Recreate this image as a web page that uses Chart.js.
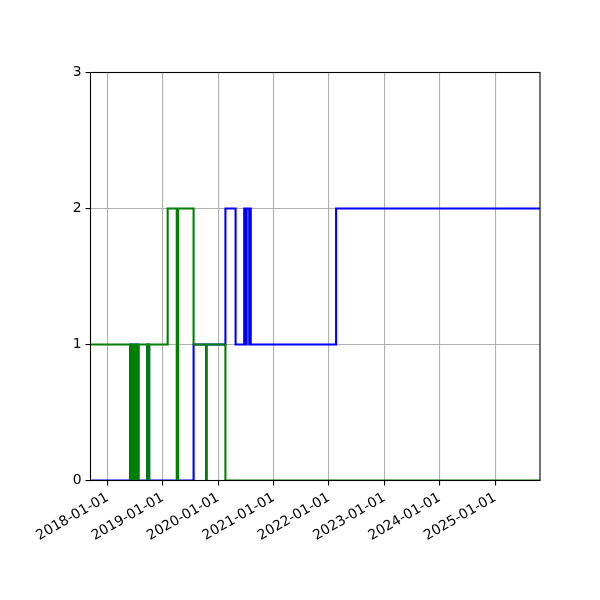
<!DOCTYPE html>
<html>
<head>
<meta charset="utf-8">
<script src="https://cdn.jsdelivr.net/npm/chart.js@4.4.1/dist/chart.umd.min.js"></script>
<style>
  html, body { margin: 0; padding: 0; background: #fff; }
  canvas { display: block; }
</style>
</head>
<body>
<canvas id="steps" width="600" height="600"></canvas>
<script>
// step series, each value holds from its date until the next one
const greenDates = ['2017-09-11', '2018-05-31', '2018-06-06', '2018-06-12', '2018-06-18', '2018-06-24',
  '2018-06-30', '2018-07-06', '2018-07-12', '2018-07-18', '2018-07-24', '2018-09-20', '2018-10-03',
  '2019-02-02', '2019-04-03', '2019-04-12', '2019-07-23', '2019-10-13', '2019-10-18', '2020-02-18',
  '2025-10-24'];
const greenValues = [1, 0, 1, 0, 1, 0, 1, 0, 1, 0, 1, 0, 1, 2, 0, 2, 1, 0, 1, 0, 0];

const blueDates = ['2017-09-11', '2018-05-31', '2018-06-06', '2018-06-12', '2018-06-18', '2018-06-24',
  '2018-06-30', '2018-07-06', '2018-07-12', '2018-07-18', '2018-07-24', '2018-09-20', '2018-10-03',
  '2019-07-23', '2020-02-18', '2020-04-25', '2020-06-21', '2020-06-30', '2020-07-07', '2020-07-24',
  '2020-07-29', '2020-08-03', '2022-02-17', '2025-10-24'];
const blueValues = [0, 1, 0, 1, 0, 1, 0, 1, 0, 1, 0, 1, 0, 1, 2, 1, 2, 1, 2, 1, 2, 1, 2, 2];

const yearTicks = ['2018-01-01', '2019-01-01', '2020-01-01', '2021-01-01',
  '2022-01-01', '2023-01-01', '2024-01-01', '2025-01-01'];
const yTicks = [0, 1, 2, 3];

const toPoints = (dates, values) => dates.map((d, i) => ({ x: Date.parse(d), y: values[i] }));
const allDates = greenDates.concat(blueDates).map(d => Date.parse(d));

Chart.defaults.font.family = 'DejaVu Sans';
Chart.defaults.font.size = 13.9;
Chart.defaults.color = '#000';

// matplotlib style box around the plot area
const frame = {
  id: 'frame',
  afterDatasetsDraw(chart) {
    const { ctx, chartArea: a } = chart;
    ctx.save();
    ctx.strokeStyle = '#000';
    ctx.lineWidth = 1.1;
    ctx.strokeRect(a.left, a.top, a.right - a.left, a.bottom - a.top);
    ctx.restore();
  }
};

new Chart(document.getElementById('steps'), {
  type: 'line',
  data: {
    datasets: [{
      label: 'green',
      data: toPoints(greenDates, greenValues),
      borderColor: '#008000',
      borderWidth: 2.1,
      stepped: true,
      pointRadius: 0,
      fill: false,
    }, {
      label: 'blue',
      data: toPoints(blueDates, blueValues),
      borderColor: '#0000ff',
      borderWidth: 2.1,
      stepped: true,
      pointRadius: 0,
      fill: false,
    }]
  },
  options: {
    responsive: false,
    animation: false,
    layout: { padding: { top: 72.5, right: 60, left: 0.5, bottom: 0 } },
    plugins: {
      legend: { display: false },
      tooltip: { enabled: false },
    },
    scales: {
      x: {
        type: 'linear',
        min: Math.min(...allDates),
        max: Math.max(...allDates),
        afterBuildTicks: scale => {
          scale.ticks = yearTicks.map(d => ({ value: Date.parse(d) }));
        },
        afterFit: scale => { scale.height = 119.5; },
        ticks: {
          autoSkip: false,
          minRotation: 30,
          maxRotation: 30,
          padding: 4,
          callback: v => new Date(v).toISOString().slice(0, 10),
        },
        grid: { color: '#b0b0b0', lineWidth: 1.1, tickColor: '#000', tickLength: 5, tickWidth: 1.1 },
        border: { display: false },
      },
      y: {
        min: 0,
        max: 3,
        afterBuildTicks: scale => {
          scale.ticks = yTicks.map(v => ({ value: v }));
        },
        afterFit: scale => { scale.width = 90; },
        ticks: { padding: 4 },
        grid: { color: '#b0b0b0', lineWidth: 1.1, tickColor: '#000', tickLength: 5, tickWidth: 1.1 },
        border: { display: false },
      },
    },
  },
  plugins: [frame],
});
</script>
</body>
</html>
